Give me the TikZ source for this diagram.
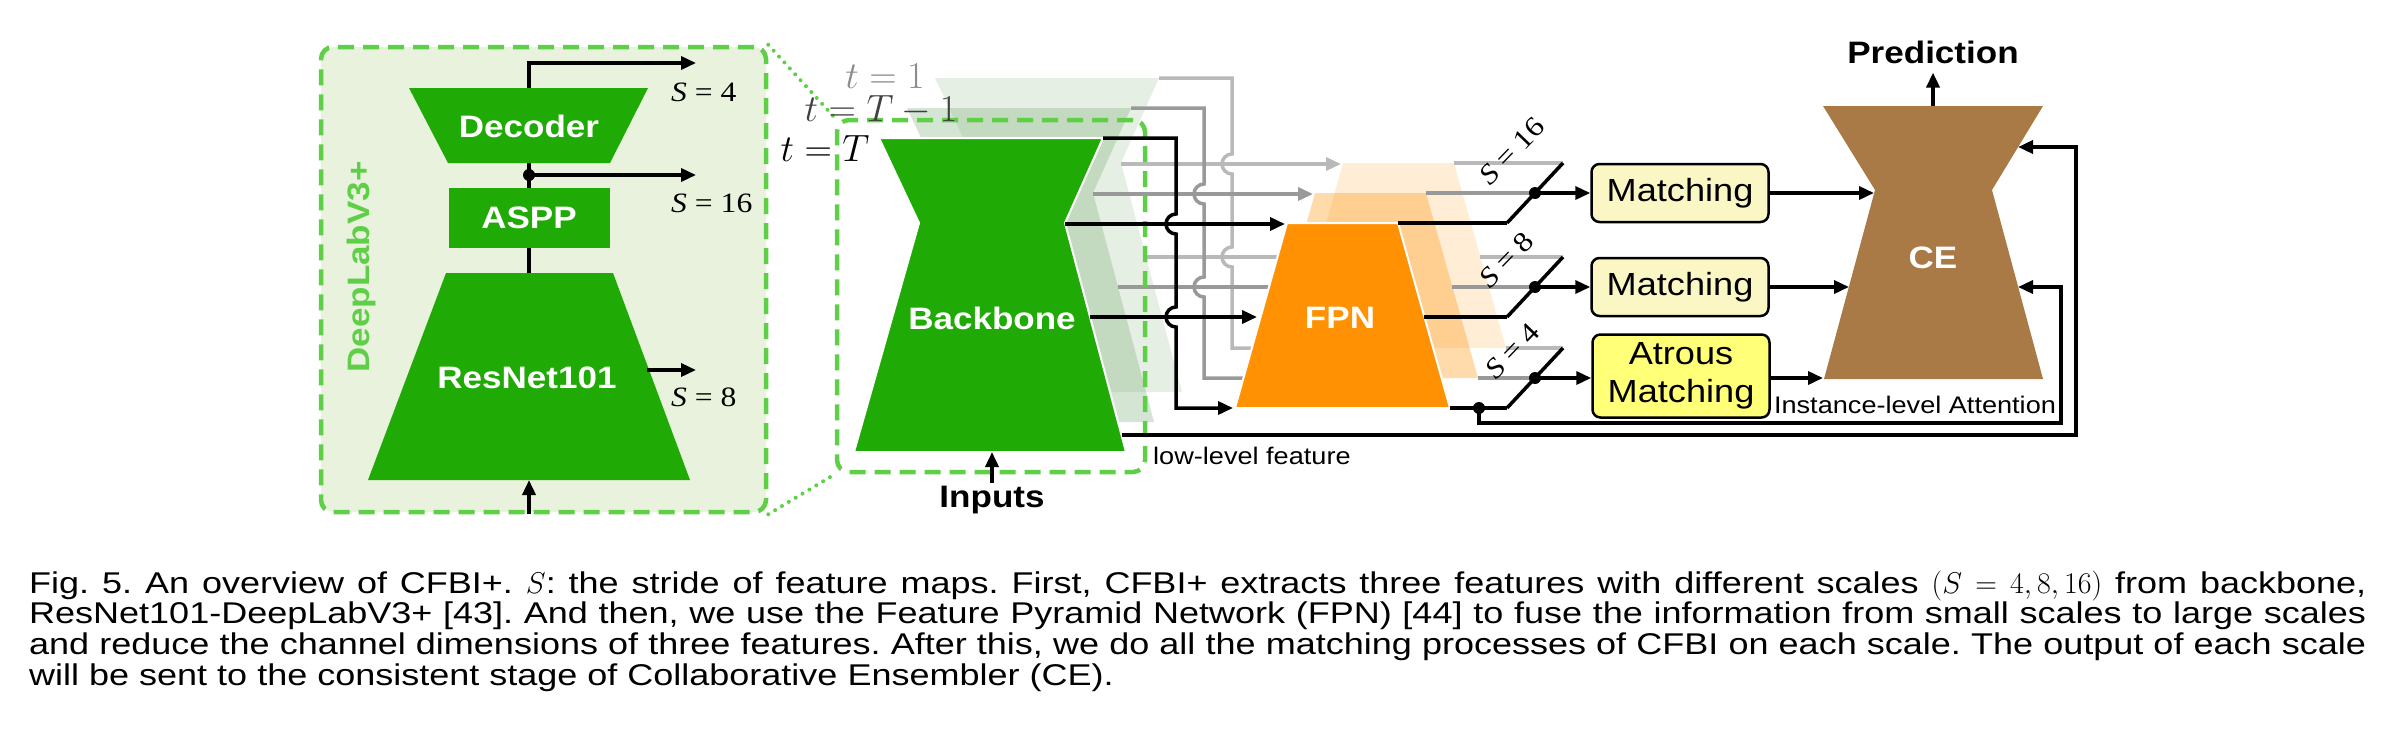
\RequirePackage{fix-cm}
\documentclass[tikz,border=0pt]{standalone}
\usepackage[no-math]{fontspec}
\setmainfont{Liberation Sans}[FakeStretch=1.13]
\newfontfamily\capfont{Liberation Sans}[FakeStretch=1.2]
\newfontfamily\timesfont{Liberation Serif}[FakeStretch=1.13]
\usepackage{tikz}
\usetikzlibrary{arrows.meta, calc}
\definecolor{dlgreen}{HTML}{20AA05}
\definecolor{dlbox}{HTML}{E8F2DC}
\definecolor{dldash}{HTML}{5FCF48}
\definecolor{ghostgreen}{HTML}{7DAF78}
\definecolor{fpnorange}{HTML}{FF9102}
\definecolor{cebrown}{HTML}{A97A45}
\definecolor{matchyellow}{HTML}{FBF7C4}
\definecolor{atrousyellow}{HTML}{FFFF78}
\hbadness=10000
% one time step: backbone, links to FPN, FPN and its three outputs
\newcommand{\cfbiframe}[3]{%
  \path[#2] (879,138) -- (1103,138) -- (1065,223) -- (1126,452) -- (854,452) -- (919,223) -- cycle;
  \path[#3] (1287,223) -- (1398,223) -- (1450,408) -- (1235,408) -- cycle;
  \draw[arrow, draw=#1] (1103,138) -- (1176,138) -- (1176,214)
    arc[start angle=270, end angle=90, radius=10] -- (1176,307)
    arc[start angle=270, end angle=90, radius=10] -- (1176,408) -- (1233,408);
  \draw[arrow, draw=#1] (1065,224) -- (1285,224);
  \draw[arrow, draw=#1] (1090,317) -- (1257,317);
  \draw[wire, draw=#1] (1398,223) -- (1507,223) (1424,317) -- (1507,317) (1450,408) -- (1507,408);
}

\begin{document}
\begin{tikzpicture}[
    x=1pt, y=-1pt,
    lbl/.style={font=\fontsize{31}{31}\selectfont\bfseries, text=white, inner sep=0pt},
    blacklbl/.style={font=\fontsize{31}{31}\selectfont\bfseries, inner sep=0pt},
    smalllbl/.style={font=\fontsize{24}{24}\selectfont, inner sep=0pt},
    slbl/.style={font=\fontsize{28}{28}\timesfont, inner sep=0pt},
    tlbl/.style={font=\fontsize{38}{38}\selectfont, inner sep=0pt},
    capline/.style={anchor=base west, inner sep=0pt, font=\fontsize{30}{31}\capfont\frenchspacing},
    arrow/.style={line width=3.5pt, -{Triangle[length=15pt,width=13pt]}},
    wire/.style={line width=3.5pt},
    dashbox/.style={draw=dldash, line width=4.5pt, dash pattern=on 16pt off 9pt, rounded corners=12pt},
    dotline/.style={draw=dldash, line width=4pt, line cap=round, dash pattern=on 0pt off 8pt},
    matchbox/.style={draw, line width=2.5pt, rounded corners=8pt, fill=matchyellow, minimum width=177pt, minimum height=58pt, font=\fontsize{32}{38}\selectfont, align=center, inner sep=0pt},
    dot/.style={circle, fill, inner sep=0pt, minimum size=12pt}
]
\useasboundingbox (0,0) rectangle (2393,731);

% DeepLabV3+ detail
\node[dashbox, fill=dlbox, minimum width=445pt, minimum height=465pt, inner sep=0pt] (deeplab) at (543.5,279.5) {};
\node[lbl, text=dldash, rotate=90] (dltitle) at (361,267) {DeepLabV3+};
\fill[dlgreen] (409,88) -- (648,88) -- (610,163) -- (448,163) -- cycle;
\node[lbl] (decoder) at (529,126) {Decoder};
\node[lbl, fill=dlgreen, minimum width=161pt, minimum height=60pt] (aspp) at (529,218) {ASPP};
\fill[dlgreen] (446,273) -- (613,273) -- (690,480) -- (368,480) -- cycle;
\node[lbl] (resnet) at (527,378) {ResNet101};
\coordinate (dectop) at (529,88);
\coordinate (decbot) at (529,163);
\coordinate (rntop) at (529,273);
\coordinate (rnbot) at (529,480);
\coordinate (rnside) at (647,370);
\coordinate (out4) at (696,63);
\coordinate (out16) at (696,175);
\coordinate (out8) at (696,370);
\draw[wire] (decbot) -- (aspp);
\draw[wire] (aspp) -- (rntop);
\node[dot] (d16) at (529,175) {};
\draw[arrow] (dectop) |- (out4);
\draw[arrow] (d16.center) -- (out16);
\draw[arrow] (rnside) -- (out8);
\draw[arrow] (rnbot |- deeplab.south) -- (rnbot);
\node[slbl, anchor=west] (s4a) at (671,92) {\textit{S} = 4};
\node[slbl, anchor=west] (s16a) at (671,203) {\textit{S} = 16};
\node[slbl, anchor=west] (s8a) at (671,397) {\textit{S} = 8};

% earlier frames
\begin{scope}[shift={(56,-60)}]
  \cfbiframe{gray!55}{fill=ghostgreen, fill opacity=0.2}{fill=fpnorange, fill opacity=0.16}
\end{scope}
\begin{scope}[shift={(28,-30)}]
  \cfbiframe{gray!80}{fill=ghostgreen, fill opacity=0.33}{fill=fpnorange, fill opacity=0.33}
\end{scope}

\node[dashbox, minimum width=308pt, minimum height=352pt, inner sep=0pt] (bbbox) at (991,296) {};
\draw[dotline] (deeplab.north east) -- (bbbox.north west);
\draw[dotline] (deeplab.south east) -- (bbbox.south west);

% current frame
\cfbiframe{black}{fill=dlgreen, draw=white, line width=2pt}{fill=fpnorange, draw=white, line width=2pt}
\node[lbl] (backbone) at (992,318) {Backbone};
\node[lbl] (fpn) at (1340,318) {FPN};
\node[tlbl, text=gray!90] (t1) at (885,76) {$t=1$};
\node[tlbl, text=black!75] (tm1) at (881,110) {$t=T-1$};
\node[tlbl] (tT) at (825,149) {$t=T$};
\node[blacklbl] (inputs) at (992,500) {Inputs};
\coordinate (bbbot) at (992,452);
\draw[arrow, shorten <=3pt] (inputs) -- (bbbot);
\node[smalllbl, anchor=west] (lowlvl) at (1153,456) {low-level feature};

% switches
\coordinate (sw16) at (1535,193);
\coordinate (sw8) at (1535,287);
\coordinate (sw4) at (1535,378);
\coordinate (att) at (1479,408);
\draw[wire] (1507,223) -- (1563,163);
\draw[wire] (1507,317) -- (1563,257);
\draw[wire] (1507,408) -- (1563,348);
\fill (sw16) circle[radius=6];
\fill (sw8) circle[radius=6];
\fill (sw4) circle[radius=6];
\fill (att) circle[radius=6];
\node[slbl, rotate=46, anchor=base west] (s16b) at (1490,187) {\textit{S} = 16};
\node[slbl, rotate=46, anchor=base west] (s8b) at (1490,290) {\textit{S} = 8};
\node[slbl, rotate=46, anchor=base west] (s4b) at (1496,381) {\textit{S} = 4};

% matching and CE
\node[matchbox] (m16) at (1680,193) {Matching};
\node[matchbox] (m8) at (1680,287) {Matching};
\node[matchbox, fill=atrousyellow, minimum height=83pt] (m4) at (1681,376) {Atrous\\Matching};
\fill[cebrown] (1823,106) -- (2043,106) -- (1992,190) -- (2043,379) -- (1824,379) -- (1875,190) -- cycle;
\node[lbl] (ce) at (1933,258) {CE};
\coordinate (cetop) at (1933,106);
\coordinate (ce16) at (1874,193);
\coordinate (ce8) at (1849,287);
\coordinate (ce4) at (1823,378);
\coordinate (cefb1) at (2018,147);
\coordinate (cefb2) at (2018,287);
\coordinate (fbcorner1) at (2076,147);
\coordinate (fbcorner2) at (2061,287);
\coordinate (llstart) at (1122,435);
\node[blacklbl] (pred) at (1933,52) {Prediction};
\draw[arrow] (sw16) -- (m16);
\draw[arrow] (sw8) -- (m8);
\draw[arrow] (sw4) -- (sw4 -| m4.west);
\draw[arrow] (m16) -- (ce16);
\draw[arrow] (m8) -- (ce8);
\draw[arrow] (m4.east |- ce4) -- (ce4);
\draw[arrow, shorten >=9pt] (cetop) -- (pred);
\draw[arrow] (llstart) -| (fbcorner1) -- (cefb1);
\draw[arrow] (att) -- ++(0,15) -| (fbcorner2) -- (cefb2);
\node[smalllbl] (inst) at (1915,405) {Instance-level Attention};

% caption
\node[capline] (cap1) at (29,593) {\hbox to 2337pt{Fig. 5. An overview of CFBI+. $S$: the stride of feature maps. First, CFBI+ extracts three features with different scales $(S=4,8,16)$ from backbone,}};
\node[capline] (cap2) at (29,623.7) {\hbox to 2337pt{ResNet101-DeepLabV3+ [43]. And then, we use the Feature Pyramid Network (FPN) [44] to fuse the information from small scales to large scales}};
\node[capline] (cap3) at (29,654.4) {\hbox to 2337pt{and reduce the channel dimensions of three features. After this, we do all the matching processes of CFBI on each scale. The output of each scale}};
\node[capline] (cap4) at (29,685) {will be sent to the consistent stage of Collaborative Ensembler (CE).};
\end{tikzpicture}
\end{document}
